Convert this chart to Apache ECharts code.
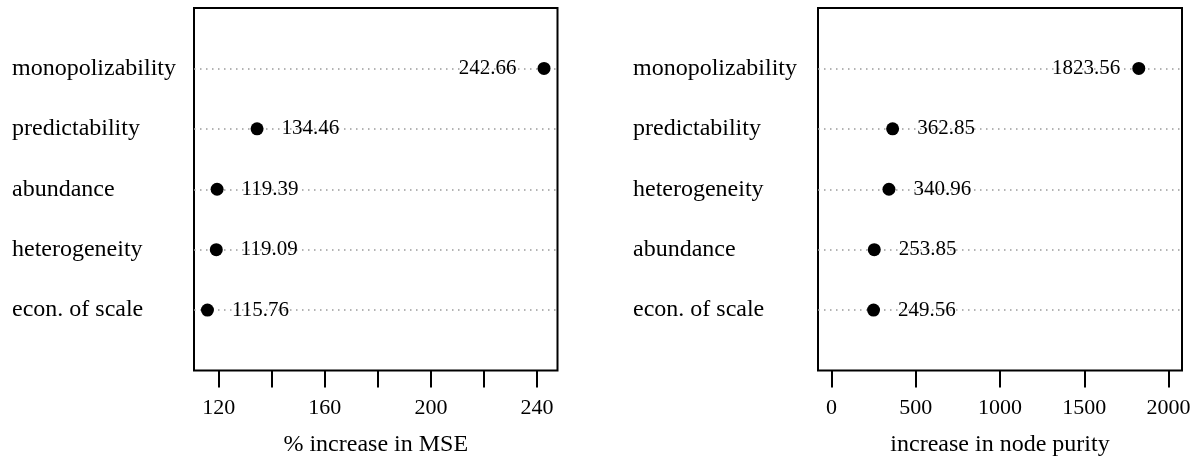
<!DOCTYPE html>
<html>
<head>
<meta charset="utf-8">
<script src="https://cdn.jsdelivr.net/npm/echarts@6/dist/echarts.min.js"></script>
<style>html,body{margin:0;padding:0;background:#fff;}#c{width:1199px;height:456px;}</style>
</head>
<body>
<div id="c"></div>
<script>
// ---- data ----
const mseCategories = ['monopolizability', 'predictability', 'abundance', 'heterogeneity', 'econ. of scale'];
const mseValues = [242.66, 134.46, 119.39, 119.09, 115.76];
const mseTicks = [120, 140, 160, 180, 200, 220, 240];
const mseTickLabels = [120, 160, 200, 240];
const mseTitle = '% increase in MSE';

const purityCategories = ['monopolizability', 'predictability', 'heterogeneity', 'abundance', 'econ. of scale'];
const purityValues = [1823.56, 362.85, 340.96, 253.85, 249.56];
const purityTicks = [0, 500, 1000, 1500, 2000];
const purityTickLabels = [0, 500, 1000, 1500, 2000];
const purityTitle = 'increase in node purity';

// ---- helpers ----
const FONT = '"Liberation Serif", "DejaVu Serif", serif';
function ext(lo, hi) { const r = hi - lo; return [lo - 0.04 * r, hi + 0.04 * r]; }
const mseLim = ext(Math.min(...mseValues), Math.max(...mseValues));
const purityLim = ext(0, 2000);

// category axis with a blank slot above and below (dotchart spacing)
function yCats(cats) { return [''].concat(cats.slice().reverse()).concat(['']); }

function xAxisFor(gi, lim, ticks, labels, title) {
  return {
    gridIndex: gi, type: 'value', min: lim[0], max: lim[1],
    axisLine: { show: false },
    splitLine: { show: false },
    axisTick: { show: true, inside: false, length: 17, customValues: ticks, lineStyle: { color: '#000', width: 2 } },
    axisLabel: { show: true, customValues: labels, margin: 27, color: '#000', fontFamily: FONT, fontSize: 22,
      formatter: function (v) { return String(Math.round(v)); } },
    name: title, nameLocation: 'middle', nameGap: 62,
    nameTextStyle: { color: '#000', fontFamily: FONT, fontSize: 24 }
  };
}
function yAxisFor(gi, cats, margin) {
  const data = yCats(cats);
  return {
    gridIndex: gi, type: 'category', data: data, boundaryGap: false,
    axisLine: { show: false }, axisTick: { show: false },
    axisLabel: { align: 'left', margin: margin, color: '#000', fontFamily: FONT, fontSize: 24, interval: 0 },
    splitLine: {
      show: true,
      interval: function (i) { return i > 0 && i < data.length - 1; },
      lineStyle: { color: '#9a9a9a', width: 1.5, type: [1.5, 4.5] }
    }
  };
}
function seriesFor(gi, cats, vals, leftDist) {
  return {
    type: 'scatter', xAxisIndex: gi, yAxisIndex: gi,
    symbol: 'circle', symbolSize: 13,
    itemStyle: { color: '#000', opacity: 1 },
    label: {
      show: true, position: 'right', distance: 18,
      color: '#000', opacity: 1, fontFamily: FONT, fontSize: 21,
      formatter: function (p) { return p.value[0].toFixed(2); }
    },
    data: vals.map(function (v, i) {
      const d = { value: [v, cats[i]] };
      if (v === Math.max.apply(null, vals)) d.label = { position: 'left', distance: leftDist };
      return d;
    })
  };
}

const chart = echarts.init(document.getElementById('c'), null, { renderer: 'canvas' });
chart.setOption({
  animation: false,
  backgroundColor: '#fff',
  grid: [
    { left: 194, top: 8, width: 363.5, height: 362.5, show: true, borderColor: '#000', borderWidth: 2, backgroundColor: 'transparent', containLabel: false, outerBoundsMode: 'none' },
    { left: 818, top: 8, width: 364, height: 362.5, show: true, borderColor: '#000', borderWidth: 2, backgroundColor: 'transparent', containLabel: false, outerBoundsMode: 'none' }
  ],
  xAxis: [
    xAxisFor(0, mseLim, mseTicks, mseTickLabels, mseTitle),
    xAxisFor(1, purityLim, purityTicks, purityTickLabels, purityTitle)
  ],
  yAxis: [
    yAxisFor(0, mseCategories, 182),
    yAxisFor(1, purityCategories, 185)
  ],
  series: [
    seriesFor(0, mseCategories, mseValues, 21),
    seriesFor(1, purityCategories, purityValues, 12)
  ]
});
</script>
</body>
</html>
